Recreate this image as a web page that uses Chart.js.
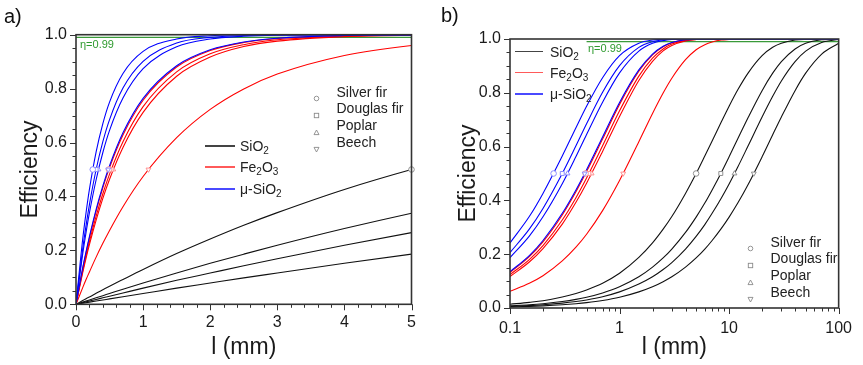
<!DOCTYPE html>
<html>
<head>
<meta charset="utf-8">
<script src="https://cdn.jsdelivr.net/npm/chart.js@4.4.1/dist/chart.umd.min.js"></script>
<style>
  body { margin: 0; background: #fff; font-family: Arial, "Liberation Sans", sans-serif; }
  #wrap { position: relative; width: 863px; height: 365px; overflow: hidden; }
  canvas { position: absolute; top: 0; }
  #chartA { left: 0; }
  #chartB { left: 432px; }
  .lbl { position: absolute; white-space: nowrap; line-height: 1; }
  .panel { font-size: 20px; color: #111; }
  .eta { font-size: 11px; color: #2e9a2e; transform: translateY(-50%); }
  .leg { font-size: 14px; color: #222; transform: translateY(-50%); }
  .leg sub { font-size: 10px; vertical-align: -3px; line-height: 0; }
  .swatch { position: absolute; height: 1.5px; }
  .mark { position: absolute; width: 7px; height: 7px; }
</style>
</head>
<body>
<div id="wrap">
  <canvas id="chartA" width="430" height="365"></canvas>
  <canvas id="chartB" width="431" height="365"></canvas>
  <div class="lbl panel" style="left:4px;top:6px">a)</div>
  <div class="lbl panel" style="left:441px;top:5px">b)</div>
</div>
<script>
// l (mm) where the curves were read
const lengths = [0, 0.1, 0.15, 0.2, 0.3, 0.4, 0.5, 0.7, 1, 1.5, 2, 2.5, 3, 4, 5, 6, 7, 8.5, 10, 12, 15, 20, 25, 30, 40, 50, 70, 100]

// efficiency, SiO2
const sio2Silver  = [0, 0.014, 0.021, 0.027, 0.041, 0.054, 0.067, 0.092, 0.129, 0.188, 0.242, 0.293, 0.340, 0.426, 0.500, 0.565, 0.621, 0.692, 0.750, 0.811, 0.875, 0.938, 0.969, 0.984, 0.996, 0.999, 1, 1]
const sio2Douglas = [0, 0.008, 0.012, 0.016, 0.024, 0.032, 0.040, 0.056, 0.079, 0.116, 0.152, 0.186, 0.219, 0.281, 0.338, 0.390, 0.439, 0.504, 0.562, 0.629, 0.710, 0.808, 0.873, 0.916, 0.963, 0.984, 0.997, 1]
const sio2Poplar  = [0, 0.006, 0.009, 0.012, 0.018, 0.024, 0.030, 0.042, 0.060, 0.089, 0.116, 0.143, 0.169, 0.219, 0.266, 0.310, 0.352, 0.409, 0.461, 0.524, 0.605, 0.710, 0.787, 0.844, 0.916, 0.955, 0.987, 0.998]
const sio2Beech   = [0, 0.004, 0.006, 0.008, 0.012, 0.016, 0.020, 0.028, 0.040, 0.060, 0.079, 0.098, 0.116, 0.152, 0.186, 0.219, 0.251, 0.296, 0.338, 0.390, 0.461, 0.562, 0.644, 0.710, 0.808, 0.873, 0.944, 0.984]

// efficiency, Fe2O3
const fe2o3Silver  = [0, 0.132, 0.191, 0.246, 0.346, 0.432, 0.507, 0.628, 0.757, 0.880, 0.941, 0.971, 0.986, 0.997, 0.999, 1, 1, 1, 1, 1, 1, 1, 1, 1, 1, 1, 1, 1]
const fe2o3Douglas = [0, 0.124, 0.180, 0.232, 0.327, 0.410, 0.483, 0.603, 0.733, 0.862, 0.929, 0.963, 0.981, 0.995, 0.999, 1, 1, 1, 1, 1, 1, 1, 1, 1, 1, 1, 1, 1]
const fe2o3Poplar  = [0, 0.117, 0.171, 0.221, 0.312, 0.393, 0.464, 0.582, 0.712, 0.846, 0.917, 0.956, 0.976, 0.993, 0.998, 0.999, 1, 1, 1, 1, 1, 1, 1, 1, 1, 1, 1, 1]
const fe2o3Beech   = [0, 0.062, 0.092, 0.120, 0.175, 0.226, 0.274, 0.362, 0.474, 0.618, 0.723, 0.799, 0.854, 0.923, 0.960, 0.979, 0.989, 0.996, 0.998, 1, 1, 1, 1, 1, 1, 1, 1, 1]

// efficiency, micro-SiO2
const muSio2Silver  = [0, 0.242, 0.340, 0.426, 0.565, 0.670, 0.750, 0.856, 0.938, 0.984, 0.996, 0.999, 1, 1, 1, 1, 1, 1, 1, 1, 1, 1, 1, 1, 1, 1, 1, 1]
const muSio2Douglas = [0, 0.206, 0.293, 0.370, 0.500, 0.603, 0.685, 0.802, 0.901, 0.969, 0.990, 0.997, 0.999, 1, 1, 1, 1, 1, 1, 1, 1, 1, 1, 1, 1, 1, 1, 1]
const muSio2Poplar  = [0, 0.187, 0.267, 0.339, 0.462, 0.563, 0.645, 0.765, 0.874, 0.955, 0.984, 0.994, 0.998, 1, 1, 1, 1, 1, 1, 1, 1, 1, 1, 1, 1, 1, 1, 1]
const muSio2Beech   = [0, 0.135, 0.195, 0.251, 0.352, 0.439, 0.514, 0.636, 0.764, 0.885, 0.944, 0.973, 0.987, 0.997, 0.999, 1, 1, 1, 1, 1, 1, 1, 1, 1, 1, 1, 1, 1]

// l at 50 % efficiency (the marked points), order: Silver fir, Douglas fir, Poplar, Beech
const sio2Half = [5.0, 8.4, 11.2, 16.8]
const fe2o3Half = [0.49, 0.525, 0.556, 1.08]
const muSio2Half = [0.25, 0.30, 0.335, 0.48]
const halfEff = 0.5

const etaLevel = 0.99
const etaSpanA = [0, 5]
const etaSpanB = [0.5, 100]

const woods = ['Silver fir', 'Douglas fir', 'Poplar', 'Beech']
const materials = ['SiO<sub>2</sub>', 'Fe<sub>2</sub>O<sub>3</sub>', '&mu;-SiO<sub>2</sub>']

const yTicks = [0, 0.2, 0.4, 0.6, 0.8, 1.0]
const xTicksA = [0, 1, 2, 3, 4, 5]
const xTicksB = [0.1, 1, 10, 100]

// drawing order: blue on top, then red, then black
const series = [
  { color: '#0000ff', mark: '#8c8cff', half: muSio2Half, curves: [muSio2Silver, muSio2Douglas, muSio2Poplar, muSio2Beech] },
  { color: '#ff0000', mark: '#ff9090', half: fe2o3Half, curves: [fe2o3Silver, fe2o3Douglas, fe2o3Poplar, fe2o3Beech] },
  { color: '#111111', mark: '#909090', half: sio2Half, curves: [sio2Silver, sio2Douglas, sio2Poplar, sio2Beech] },
]
const markStyles = [
  { pointStyle: 'circle', rotation: 0 },
  { pointStyle: 'rect', rotation: 0 },
  { pointStyle: 'triangle', rotation: 0 },
  { pointStyle: 'triangle', rotation: 180 },
]

const FONT = 'Arial, "Liberation Sans", sans-serif'
Chart.defaults.font.family = FONT
Chart.defaults.color = '#1a1a1a'

// frame box + tick marks (major/minor)
const frameTicks = {
  id: 'frameTicks',
  afterDatasetsDraw(chart, args, opts) {
    const { ctx, chartArea: a, scales } = chart
    const x = scales.x
    const y = scales.y
    ctx.save()
    ctx.strokeStyle = '#333'
    ctx.lineWidth = 1
    ctx.beginPath()
    for (let i = 0; i <= 20; i++) {
      const py = Math.round(y.getPixelForValue(i / 20)) + 0.5
      const len = i % 4 === 0 ? 6 : 3.5
      ctx.moveTo(a.left - len, py)
      ctx.lineTo(a.left, py)
    }
    opts.major.forEach((v) => {
      const px = Math.round(x.getPixelForValue(v)) + 0.5
      ctx.moveTo(px, a.bottom)
      ctx.lineTo(px, a.bottom + 6)
    })
    opts.minor.forEach((v) => {
      const px = Math.round(x.getPixelForValue(v)) + 0.5
      ctx.moveTo(px, a.bottom)
      ctx.lineTo(px, a.bottom + 3.5)
    })
    ctx.stroke()
    ctx.lineWidth = 1.6
    ctx.strokeRect(a.left, a.top, a.right - a.left, a.bottom - a.top)
    ctx.restore()
  },
}

function buildDatasets(minX, etaSpan) {
  const sets = []
  series.forEach((s) => {
    s.half.forEach((h, i) => {
      sets.push({
        data: [{ x: h, y: halfEff }],
        showLine: false,
        pointRadius: 2.8,
        pointStyle: markStyles[i].pointStyle,
        rotation: markStyles[i].rotation,
        pointBackgroundColor: '#fff',
        pointBorderColor: s.mark,
        pointBorderWidth: 1,
        clip: 4,
      })
    })
  })
  series.forEach((s) => {
    s.curves.forEach((c) => {
      const pts = []
      lengths.forEach((l, j) => {
        if (l >= minX) pts.push({ x: l, y: c[j] })
      })
      sets.push({
        data: pts,
        showLine: true,
        borderColor: s.color,
        borderWidth: 1.1,
        pointRadius: 0,
        cubicInterpolationMode: 'monotone',
      })
    })
  })
  sets.push({
    data: etaSpan.map((v) => ({ x: v, y: etaLevel })),
    showLine: true,
    borderColor: '#3a9a3a',
    borderWidth: 1.2,
    pointRadius: 0,
  })
  return sets
}

function yScale(titlePad, yWidth) {
  return {
    min: 0,
    max: 1,
    afterBuildTicks: (scale) => { scale.ticks = yTicks.map((v) => ({ value: v })) },
    afterFit: (scale) => { scale.width = yWidth },
    grid: { display: false, drawTicks: false },
    border: { display: false },
    ticks: { padding: 9, font: { size: 16 }, callback: (v) => v.toFixed(1) },
    title: { display: true, text: 'Efficiency', font: { size: 23 }, padding: { top: titlePad } },
  }
}

function xTitle() {
  return { display: true, text: 'l (mm)', font: { size: 23 }, padding: { bottom: 4 } }
}

// panel a) linear l
const minorA = []
for (let v = 0.2; v < 5; v += 0.2) {
  if (Math.abs(v - Math.round(v)) > 0.01) minorA.push(v)
}
new Chart(document.getElementById('chartA'), {
  type: 'scatter',
  data: { datasets: buildDatasets(0, etaSpanA) },
  options: {
    responsive: false,
    animation: false,
    layout: { padding: { top: 34.7, right: 18.5, left: 0, bottom: 0 } },
    plugins: { legend: { display: false }, tooltip: { enabled: false }, frameTicks: { major: xTicksA, minor: minorA } },
    scales: {
      x: {
        type: 'linear',
        min: 0,
        max: 5,
        afterBuildTicks: (scale) => { scale.ticks = xTicksA.map((v) => ({ value: v })) },
        afterFit: (scale) => { scale.height = 60.7 },
        grid: { display: false, drawTicks: false },
        border: { display: false },
        ticks: { padding: 9, font: { size: 16 }, maxRotation: 0 },
        title: xTitle(),
      },
      y: yScale(17, 76),
    },
  },
  plugins: [frameTicks],
})

// panel b) log l
const minorB = []
;[0.1, 1, 10].forEach((d) => {
  for (let k = 2; k <= 9; k++) minorB.push(d * k)
})
new Chart(document.getElementById('chartB'), {
  type: 'scatter',
  data: { datasets: buildDatasets(0.1, etaSpanB) },
  options: {
    responsive: false,
    animation: false,
    layout: { padding: { top: 39, right: 17.3, left: 0, bottom: 0 } },
    plugins: { legend: { display: false }, tooltip: { enabled: false }, frameTicks: { major: xTicksB, minor: minorB } },
    scales: {
      x: {
        type: 'logarithmic',
        min: 0.1,
        max: 100,
        afterBuildTicks: (scale) => { scale.ticks = xTicksB.map((v) => ({ value: v })) },
        afterFit: (scale) => { scale.height = 57 },
        grid: { display: false, drawTicks: false },
        border: { display: false },
        ticks: { padding: 11, font: { size: 16 }, maxRotation: 0, callback: (v) => String(v) },
        title: xTitle(),
      },
      y: yScale(23, 78),
    },
  },
  plugins: [frameTicks],
})

// legends and labels as html on top of the canvases
const wrap = document.getElementById('wrap')
function addHtml(cls, html, left, top) {
  const el = document.createElement('div')
  el.className = 'lbl ' + cls
  el.innerHTML = html
  el.style.left = left + 'px'
  el.style.top = top + 'px'
  wrap.appendChild(el)
}
const markSvg = [
  '<circle cx="3.5" cy="3.5" r="2.3"/>',
  '<rect x="1.3" y="1.3" width="4.4" height="4.4"/>',
  '<polygon points="3.5,1 6,5.6 1,5.6"/>',
  '<polygon points="1,1.4 6,1.4 3.5,6"/>',
]
function woodLegend(markX, textX, rows) {
  woods.forEach((w, i) => {
    const m = document.createElement('div')
    m.className = 'mark'
    m.style.left = (markX - 3.5) + 'px'
    m.style.top = (rows[i] - 3.5) + 'px'
    m.innerHTML = '<svg width="7" height="7" fill="none" stroke="#8a8a8a" stroke-width="0.9">' + markSvg[i] + '</svg>'
    wrap.appendChild(m)
    addHtml('leg', w, textX, rows[i])
  })
}
const legendColors = ['#444444', '#ff5a5a', '#4a4aff']
function materialLegend(x0, x1, textX, rows) {
  materials.forEach((name, i) => {
    const sw = document.createElement('div')
    sw.className = 'swatch'
    sw.style.left = x0 + 'px'
    sw.style.width = (x1 - x0) + 'px'
    sw.style.top = rows[i] + 'px'
    sw.style.backgroundColor = legendColors[i]
    wrap.appendChild(sw)
    addHtml('leg', name, textX, rows[i] + 1)
  })
}

woodLegend(316.7, 336.5, [91.7, 108.3, 125, 142.3])
materialLegend(205, 235, 240, [145, 166, 188])
woodLegend(750.7, 770.5, [241.7, 258.3, 275, 292])
materialLegend(515, 543, 550, [50.7, 71.5, 93])

addHtml('eta', '&eta;=0.99', 80, 44)
addHtml('eta', '&eta;=0.99', 588, 48)
</script>
</body>
</html>
